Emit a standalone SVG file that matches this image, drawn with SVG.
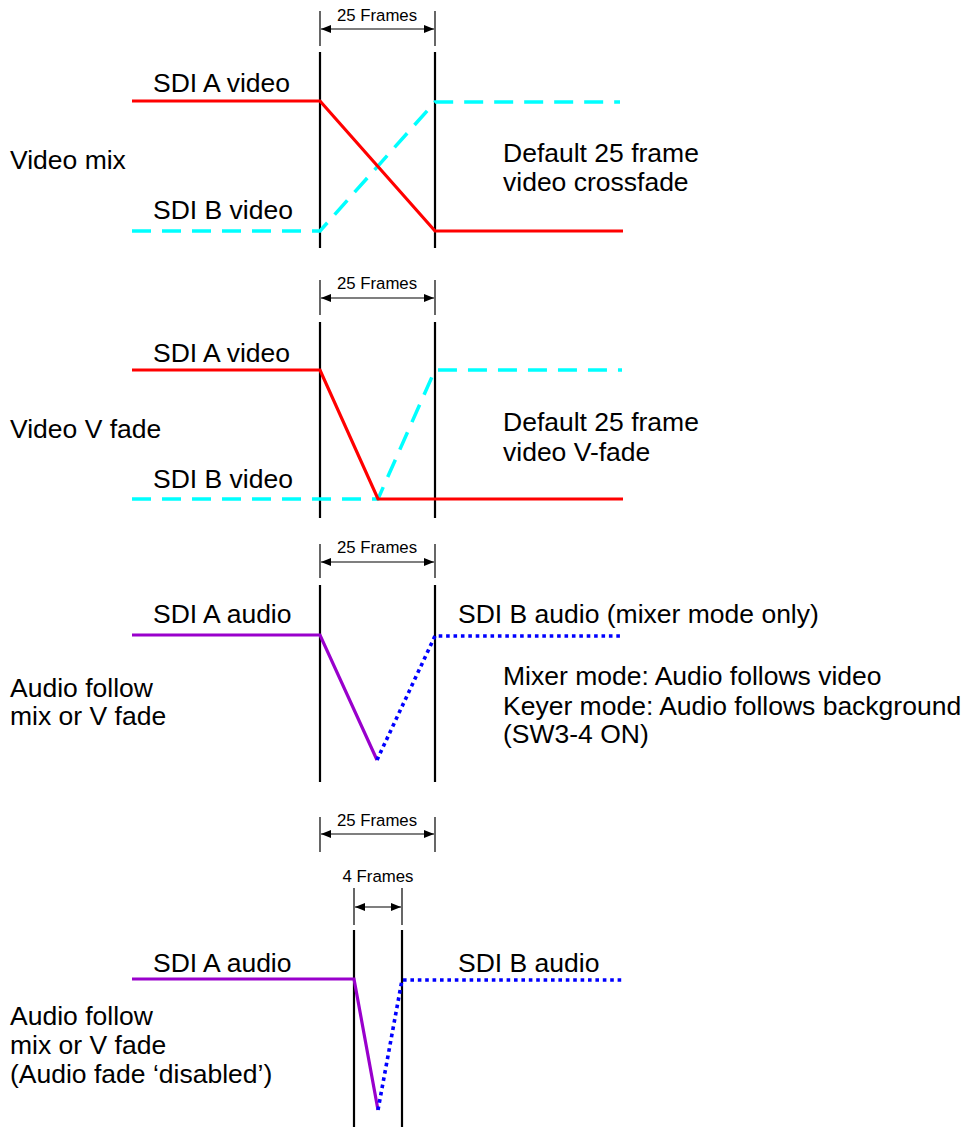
<svg xmlns="http://www.w3.org/2000/svg" width="972" height="1127" viewBox="0 0 972 1127">
<defs>
<marker id="ah" viewBox="0 0 10 8" refX="10" refY="4" markerWidth="10" markerHeight="8" markerUnits="userSpaceOnUse" orient="auto-start-reverse">
<path d="M0,0 L10,4 L0,8 Z" fill="#000"/>
</marker>
<style>
text{font-family:"Liberation Sans",Arial,sans-serif;fill:#000}
.t{font-size:26.5px}
.s{font-size:16.8px;text-anchor:middle}
.tick{stroke:#000;stroke-width:1.2;fill:none}
.dim{stroke:#000;stroke-width:1.2;fill:none;marker-start:url(#ah);marker-end:url(#ah)}
.bar{stroke:#000;stroke-width:2.2;fill:none}
.red{stroke:#FF0000;stroke-width:3.2;fill:none;stroke-linejoin:miter}
.cyan{stroke:#00FFFF;stroke-width:3.5;fill:none;stroke-dasharray:19 11}
.purple{stroke:#9900CC;stroke-width:3.2;fill:none}
.blue{stroke:#0000FF;stroke-width:3.6;fill:none;stroke-dasharray:3.6 3.8}
</style>
</defs>
<rect width="972" height="1127" fill="#fff"/>

<g id="panel-video-mix">
<line class="tick" x1="320" y1="11" x2="320" y2="46"/>
<line class="tick" x1="435" y1="11" x2="435" y2="46"/>
<line class="dim" x1="321" y1="29" x2="434" y2="29"/>
<text class="s" x="377" y="21">25 Frames</text>
<line class="bar" x1="320" y1="52" x2="320" y2="248"/>
<line class="bar" x1="435" y1="52" x2="435" y2="248"/>
<text class="t" x="153" y="92">SDI A video</text>
<text class="t" x="10" y="169">Video mix</text>
<text class="t" x="153" y="219">SDI B video</text>
<text class="t" x="503" y="162">Default 25 frame</text>
<text class="t" x="503" y="191">video crossfade</text>
</g>

<g id="panel-video-vfade">
<line class="tick" x1="320" y1="280" x2="320" y2="315"/>
<line class="tick" x1="435" y1="280" x2="435" y2="315"/>
<line class="dim" x1="321" y1="298" x2="434" y2="298"/>
<text class="s" x="377" y="289">25 Frames</text>
<line class="bar" x1="320" y1="322" x2="320" y2="518"/>
<line class="bar" x1="435" y1="322" x2="435" y2="518"/>
<text class="t" x="153" y="362">SDI A video</text>
<text class="t" x="10" y="438">Video V fade</text>
<text class="t" x="153" y="488">SDI B video</text>
<text class="t" x="503" y="431">Default 25 frame</text>
<text class="t" x="503" y="461">video V-fade</text>
</g>

<g id="panel-audio-follow">
<line class="tick" x1="320" y1="544" x2="320" y2="578"/>
<line class="tick" x1="435" y1="544" x2="435" y2="578"/>
<line class="dim" x1="321" y1="562" x2="434" y2="562"/>
<text class="s" x="377" y="553">25 Frames</text>
<line class="bar" x1="320" y1="585" x2="320" y2="782"/>
<line class="bar" x1="435" y1="585" x2="435" y2="782"/>
<text class="t" x="153" y="623">SDI A audio</text>
<text class="t" x="458" y="623">SDI B audio (mixer mode only)</text>
<text class="t" x="10" y="697">Audio follow</text>
<text class="t" x="10" y="725">mix or V fade</text>
<text class="t" x="503" y="685">Mixer mode: Audio follows video</text>
<text class="t" x="503" y="715">Keyer mode: Audio follows background</text>
<text class="t" x="503" y="743">(SW3-4 ON)</text>
</g>

<g id="panel-audio-disabled">
<line class="tick" x1="320" y1="817" x2="320" y2="852"/>
<line class="tick" x1="435" y1="817" x2="435" y2="852"/>
<line class="dim" x1="321" y1="834" x2="434" y2="834"/>
<text class="s" x="377" y="826">25 Frames</text>
<line class="tick" x1="354" y1="888" x2="354" y2="925"/>
<line class="tick" x1="402" y1="888" x2="402" y2="925"/>
<line class="dim" x1="355" y1="907" x2="401" y2="907"/>
<text class="s" x="378" y="882">4 Frames</text>
<line class="bar" x1="354" y1="930" x2="354" y2="1127"/>
<line class="bar" x1="402" y1="930" x2="402" y2="1127"/>
<text class="t" x="153" y="972">SDI A audio</text>
<text class="t" x="458" y="972">SDI B audio</text>
<text class="t" x="10" y="1025">Audio follow</text>
<text class="t" x="10" y="1054">mix or V fade</text>
<text class="t" x="10" y="1083">(Audio fade ‘disabled’)</text>
</g>

<g id="connectors">
<polyline class="cyan" points="132,231 320,231 435,102 620,102"/>
<polyline class="red" points="132,101 320,101 435,231 623,231"/>
<polyline class="cyan" points="132,499 378,499 435,370 622,370"/>
<polyline class="red" points="132,370 320,370 378,499 623,499"/>
<polyline class="purple" points="132,635 320,635 377,760"/>
<polyline class="blue" points="377,760 435,636 623,636"/>
<polyline class="purple" points="132,979 354,979 378,1110"/>
<polyline class="blue" points="378,1110 402,980 623,980"/>
</g>
</svg>
